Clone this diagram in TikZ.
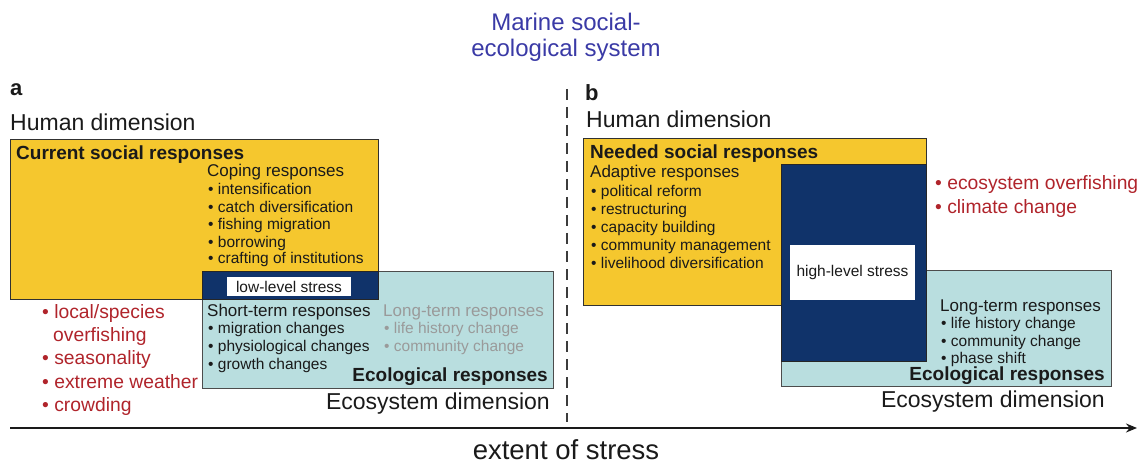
\documentclass[tikz,border=0pt]{standalone}
\usepackage{fontspec}
\setmainfont{Liberation Sans}
\usetikzlibrary{arrows.meta}

\definecolor{socialyellow}{HTML}{F5C72E}
\definecolor{stressnavy}{HTML}{10336A}
\definecolor{ecoteal}{HTML}{B9DEDF}
\definecolor{stressred}{HTML}{B0242B}
\definecolor{titleblue}{HTML}{3A3AA6}
\definecolor{fadedgray}{HTML}{9A9A9A}
\definecolor{ink}{HTML}{1A1A1A}

\newcommand{\fsz}[1]{\fontsize{#1}{#1}\selectfont}

\tikzset{
  panel/.style={draw=ink!90, line width=1.4pt, inner sep=0pt, anchor=north west},
  socialbox/.style={panel, fill=socialyellow},
  ecobox/.style={panel, fill=ecoteal, draw=black!70},
  stressbox/.style={panel, fill=stressnavy, draw=black!85},
  stresslabel/.style={fill=white, draw=none, inner sep=0pt, text=ink, font=\fsz{15.5}},
  txt/.style={anchor=base west, inner sep=0pt, text=ink},
  txtr/.style={anchor=base east, inner sep=0pt, text=ink},
  dimlabel/.style={font=\fsz{23}},
  heading/.style={font=\bfseries\fsz{19}},
  group/.style={font=\fsz{17}},
  item/.style={font=\fsz{15.5}},
  driver/.style={txt, text=stressred, font=\fsz{19.3}},
  faded/.style={text=fadedgray},
  axis/.style={draw=ink, line width=2.4pt, -{Stealth[length=11pt, width=9pt]}},
  divider/.style={draw=ink!85, line width=1.6pt, dash pattern=on 11pt off 7pt},
}

\begin{document}
\begin{tikzpicture}[x=1pt, y=-1pt]
\useasboundingbox (0,0) rectangle (1138,465);

% title
\node[txt, anchor=base, text=titleblue, font=\fsz{24}] (title1) at (566,31) {Marine social-};
\node[txt, anchor=base, text=titleblue, font=\fsz{24}] (title2) at (566,57) {ecological system};

% divider between the two panels
\coordinate (divtop) at (567,89);
\coordinate (divbot) at (567,422);
\draw[divider] (divtop) -- (divbot);

% ---------------- panel a ----------------
\node[txt, font=\bfseries\fsz{22}] (labA) at (10,96) {a};
\node[txt, dimlabel] (humA) at (10,131) {Human dimension};

\node[socialbox, minimum width=368pt, minimum height=160pt] (curA) at (10,139) {};
\node[ecobox, minimum width=351pt, minimum height=117pt] (ecoA) at (202,271) {};
\node[stressbox, minimum width=176pt, minimum height=28pt] (lowA) at (202,271) {};
\node[stresslabel, minimum width=124pt, minimum height=19pt] (lowlab) at (289,286.5) {low-level stress};

\node[txt, heading] (curhead) at (16,160) {Current social responses};
\node[txt, group] (coping) at (207,177) {Coping responses};
\node[txt, item] (cop1) at (208,194.5) {• intensification};
\node[txt, item] (cop2) at (208,212.2) {• catch diversification};
\node[txt, item] (cop3) at (208,229.9) {• fishing migration};
\node[txt, item] (cop4) at (208,247.1) {• borrowing};
\node[txt, item] (cop5) at (208,263.8) {• crafting of institutions};

\node[txt, group] (shortA) at (207,316) {Short-term responses};
\node[txt, item] (sh1) at (208,333.5) {• migration changes};
\node[txt, item] (sh2) at (208,351.5) {• physiological changes};
\node[txt, item] (sh3) at (208,369.5) {• growth changes};

\node[txt, group, faded] (longA) at (383,316) {Long-term responses};
\node[txt, item, faded] (lgA1) at (384,333.5) {• life history change};
\node[txt, item, faded] (lgA2) at (384,351.5) {• community change};

\node[txtr, heading] (ecoheadA) at (548,381) {Ecological responses};
\node[txtr, dimlabel] (ecodimA) at (550,409) {Ecosystem dimension};

\node[driver] (drvA1) at (42,318) {• local/species};
\node[driver] (drvA1b) at (53,341) {overfishing};
\node[driver] (drvA2) at (42,364) {• seasonality};
\node[driver] (drvA3) at (42,388) {• extreme weather};
\node[driver] (drvA4) at (42,411) {• crowding};

% ---------------- panel b ----------------
\node[txt, font=\bfseries\fsz{22}] (labB) at (585,101) {b};
\node[txt, dimlabel] (humB) at (586,128) {Human dimension};

\node[socialbox, minimum width=343pt, minimum height=167pt] (needB) at (583,138) {};
\node[ecobox, minimum width=330pt, minimum height=116pt] (ecoB) at (781,270) {};
\node[stressbox, minimum width=145pt, minimum height=197pt] (highB) at (781,164) {};
\node[stresslabel, minimum width=125pt, minimum height=55pt] (highlab) at (852.5,272.5) {high-level stress};

\node[txt, heading] (needhead) at (590,159) {Needed social responses};
\node[txt, group] (adapt) at (590,178) {Adaptive responses};
\node[txt, item] (ad1) at (591,196.5) {• political reform};
\node[txt, item] (ad2) at (591,214.5) {• restructuring};
\node[txt, item] (ad3) at (591,232.5) {• capacity building};
\node[txt, item] (ad4) at (591,250.5) {• community management};
\node[txt, item] (ad5) at (591,268.5) {• livelihood diversification};

\node[driver] (drvB1) at (935,190) {• ecosystem overfishing};
\node[driver] (drvB2) at (935,214) {• climate change};

\node[txt, group] (longB) at (940,311) {Long-term responses};
\node[txt, item] (lgB1) at (941,328.5) {• life history change};
\node[txt, item] (lgB2) at (941,346.5) {• community change};
\node[txt, item] (lgB3) at (941,363.5) {• phase shift};

\node[txtr, heading] (ecoheadB) at (1105,380) {Ecological responses};
\node[txtr, dimlabel] (ecodimB) at (1105,407) {Ecosystem dimension};

% stress axis
\coordinate (axstart) at (10,428);
\coordinate (axend) at (1137,428);
\draw[axis] (axstart) -- (axend);
\node[txt, anchor=base, font=\fsz{27.5}] (axlabel) at (566,459) {extent of stress};
\end{tikzpicture}
\end{document}
